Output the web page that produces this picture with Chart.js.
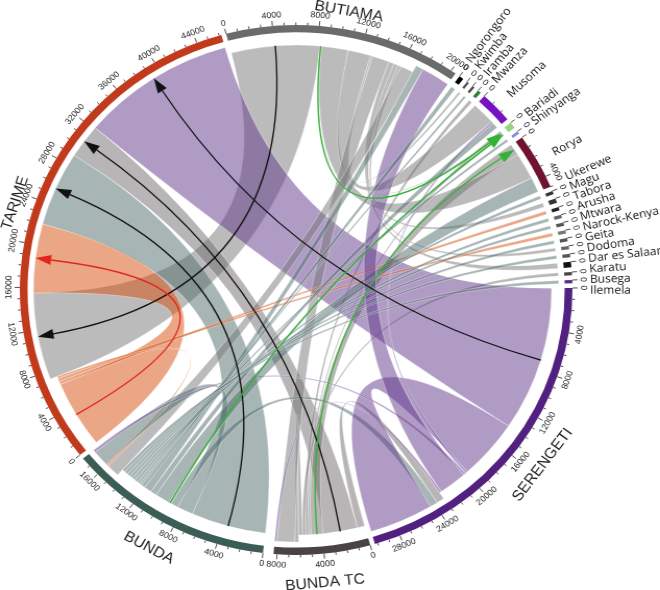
<!DOCTYPE html>
<html>
<head>
<meta charset="utf-8">
<title>Chord diagram</title>
<script src="https://cdn.jsdelivr.net/npm/chart.js@4.4.1/dist/chart.umd.min.js"></script>
<style>
    html, body { margin: 0; padding: 0; background: #fff; overflow: hidden; }
    #wrap { width: 633px; height: 590px; transform: scaleX(1.0427); transform-origin: 0 0; }
</style>
</head>
<body>
<div id="wrap"><canvas id="chord" width="633" height="590"></canvas></div>
<script>
// sectors, clockwise from the top
const sectors = ['BUTIAMA', 'Ngorongoro', 'Kwimba', 'Iramba', 'Mwanza', 'Musoma', 'Bariadi', 'Shinyanga',
    'Rorya', 'Ukerewe', 'Magu', 'Tabora', 'Arusha', 'Mtwara', 'Narock-Kenya', 'Geita', 'Dodoma',
    'Dar es Salaam', 'Karatu', 'Busega', 'Ilemela', 'SERENGETI', 'BUNDA TC', 'BUNDA', 'TARIME'];
const bigSectors = ['BUTIAMA', 'SERENGETI', 'BUNDA TC', 'BUNDA', 'TARIME'];

// links (from -> to), in drawing / stacking order
const linkFrom = ['BUTIAMA', 'TARIME', 'BUNDA', 'BUNDA TC', 'BUNDA TC', 'BUNDA TC', 'BUNDA TC', 'BUNDA TC',
    'BUNDA TC', 'BUNDA TC', 'SERENGETI', 'BUTIAMA', 'BUTIAMA', 'BUTIAMA', 'BUTIAMA', 'BUTIAMA', 'BUTIAMA',
    'BUTIAMA', 'BUTIAMA', 'BUTIAMA', 'TARIME', 'TARIME', 'TARIME', 'BUNDA', 'BUNDA', 'SERENGETI',
    'SERENGETI', 'SERENGETI', 'BUNDA', 'BUNDA', 'BUNDA', 'BUNDA', 'SERENGETI', 'SERENGETI', 'BUNDA',
    'BUNDA', 'BUNDA', 'BUNDA', 'BUNDA', 'BUNDA', 'BUNDA', 'BUNDA', 'BUNDA'];
const linkTo = ['TARIME', 'TARIME', 'TARIME', 'SERENGETI', 'TARIME', 'Rorya', 'Bariadi', 'Mwanza',
    'Busega', 'BUNDA TC', 'TARIME', 'Bariadi', 'Rorya', 'Musoma', 'Kwimba', 'BUNDA TC', 'Karatu',
    'Magu', 'Dodoma', 'BUNDA', 'Tabora', 'Narock-Kenya', 'BUNDA', 'BUNDA', 'SERENGETI', 'SERENGETI',
    'Musoma', 'BUNDA', 'Bariadi', 'Rorya', 'Musoma', 'BUTIAMA', 'BUTIAMA', 'BUNDA TC', 'Ngorongoro',
    'Iramba', 'Shinyanga', 'Ukerewe', 'Arusha', 'Mtwara', 'Geita', 'Dar es Salaam', 'Ilemela'];
const linkValue = [8200, 6500, 7000, 700, 3200, 1100, 200, 300,
    300, 350, 14000, 150, 2500, 2100, 200, 1600, 500,
    400, 300, 1200, 300, 300, 200, 1500, 700, 5800,
    200, 250, 200, 1400, 550, 700, 2600, 200, 400,
    200, 250, 300, 300, 300, 300, 300, 300];

// styles
const ringColor = {
    'BUTIAMA': '#6b6b6b', 'Ngorongoro': '#000000', 'Kwimba': '#555555', 'Iramba': '#444444',
    'Mwanza': '#2e7d2e', 'Musoma': '#7612c4', 'Bariadi': '#9ad37f', 'Shinyanga': '#8a8ad0',
    'Rorya': '#6e1430', 'Ukerewe': '#333333', 'Magu': '#333333', 'Tabora': '#222222',
    'Arusha': '#666666', 'Mtwara': '#555555', 'Narock-Kenya': '#777777', 'Geita': '#555555',
    'Dodoma': '#666666', 'Dar es Salaam': '#555555', 'Karatu': '#111111', 'Busega': '#444444',
    'Ilemela': '#5a2a90', 'SERENGETI': '#52217f', 'BUNDA TC': '#4a4343', 'BUNDA': '#3c5d56',
    'TARIME': '#c23a1c'
};
const ribbonColor = {
    'TARIME': 'rgba(214,78,12,0.5)',
    'BUTIAMA': 'rgba(120,120,120,0.5)',
    'SERENGETI': 'rgba(98,56,140,0.5)',
    'BUNDA': 'rgba(80,108,108,0.5)',
    'BUNDA TC': 'rgba(112,108,108,0.5)'
};
const arrowColor = {
    'BUTIAMA>TARIME': '#111', 'BUNDA>TARIME': '#111', 'BUNDA TC>TARIME': '#111',
    'SERENGETI>TARIME': '#111', 'TARIME>TARIME': '#e3261c',
    'BUTIAMA>Bariadi': '#33b233', 'BUNDA>Bariadi': '#33b233', 'BUNDA TC>Rorya': '#33b233'
};

// layout constants
const gapAfter = s => (s === 'BUNDA TC' ? 2.2 : 1);
const R_TO = 252, R_FROM = 245, HEAD = 15, HEAD_W = 5;
const LABEL_SEP = 2.15 * Math.PI / 180;

// stack link ends inside each sector: outgoing first, then incoming
const cursor = sectors.map(() => 0);
const ends = linkValue.map(() => ({ from: 0, to: 0 }));
linkFrom.forEach((f, i) => {
    const s = sectors.indexOf(f);
    ends[i].from = cursor[s];
    cursor[s] += linkValue[i];
});
linkTo.forEach((t, i) => {
    const s = sectors.indexOf(t);
    ends[i].to = cursor[s];
    cursor[s] += linkValue[i];
});
const sectorTotals = cursor.slice();
const grandTotal = sectorTotals.reduce((a, b) => a + b, 0);
const gapDegTotal = sectors.reduce((a, s) => a + gapAfter(s), 0);
const unitsPerDeg = grandTotal / (360 - gapDegTotal);

const ringData = [], ringColors = [], ringLabels = [];
sectors.forEach((s, i) => {
    ringData.push(sectorTotals[i], gapAfter(s) * unitsPerDeg);
    ringColors.push(ringColor[s], 'rgba(0,0,0,0)');
    ringLabels.push(s, '');
});

const isLower = a => {
    const n = ((a % (2 * Math.PI)) + 2 * Math.PI) % (2 * Math.PI);
    return n > 0.01 && n < Math.PI - 0.01;
};

function drawTangential(ctx, text, x, y, angle) {
    ctx.save();
    ctx.translate(x, y);
    ctx.rotate(isLower(angle) ? angle - Math.PI / 2 : angle + Math.PI / 2);
    ctx.textAlign = 'center';
    ctx.textBaseline = 'middle';
    ctx.fillText(text, 0, 0);
    ctx.restore();
}

// push radial labels apart so that neighbours keep a minimum angle
function spreadLabels(angles) {
    const a = angles.slice();
    for (let it = 0; it < 300; it++) {
        let moved = false;
        for (let k = 1; k < a.length; k++) {
            const d = a[k] - a[k - 1];
            if (d < LABEL_SEP - 1e-6) {
                const push = (LABEL_SEP - d) / 2;
                a[k - 1] -= push;
                a[k] += push;
                moved = true;
            }
        }
        if (!moved) break;
    }
    return a;
}

const chordPlugin = {
    id: 'chord',
    afterDatasetsDraw(chart) {
        const ctx = chart.ctx;
        const arcs = chart.getDatasetMeta(0).data;
        const cx = arcs[0].x, cy = arcs[0].y, R = arcs[0].outerRadius;
        const ang = (s, v) => {
            const a = arcs[s * 2];
            return a.startAngle + (a.endAngle - a.startAngle) * v / sectorTotals[s];
        };
        const pt = (r, a) => [cx + r * Math.cos(a), cy + r * Math.sin(a)];

        ctx.save();
        // ribbons
        linkValue.forEach((v, i) => {
            const fs = sectors.indexOf(linkFrom[i]), ts = sectors.indexOf(linkTo[i]);
            const a0 = ang(fs, ends[i].from), a1 = ang(fs, ends[i].from + v);
            const b0 = ang(ts, ends[i].to), b1 = ang(ts, ends[i].to + v);
            const p = pt(R_TO, b0), q = pt(R_FROM, a0);
            ctx.beginPath();
            ctx.arc(cx, cy, R_FROM, a0, a1);
            ctx.quadraticCurveTo(cx, cy, p[0], p[1]);
            ctx.arc(cx, cy, R_TO, b0, b1);
            ctx.quadraticCurveTo(cx, cy, q[0], q[1]);
            ctx.closePath();
            ctx.fillStyle = ribbonColor[linkFrom[i]] || 'rgba(150,150,150,0.5)';
            ctx.fill();
            ctx.strokeStyle = 'rgba(255,255,255,0.55)';
            ctx.lineWidth = 0.6;
            ctx.stroke();
        });

        // arrows along the middle of the directed links
        linkValue.forEach((v, i) => {
            const col = arrowColor[linkFrom[i] + '>' + linkTo[i]];
            if (!col) return;
            const fs = sectors.indexOf(linkFrom[i]), ts = sectors.indexOf(linkTo[i]);
            const am = ang(fs, ends[i].from + v / 2), bm = ang(ts, ends[i].to + v / 2);
            const p0 = pt(R_FROM, am), tip = pt(R_TO, bm), base = pt(R_TO - HEAD, bm);
            ctx.strokeStyle = col;
            ctx.lineWidth = 1.3;
            ctx.beginPath();
            ctx.moveTo(p0[0], p0[1]);
            ctx.quadraticCurveTo(cx, cy, base[0], base[1]);
            ctx.stroke();
            const nx = -Math.sin(bm) * HEAD_W, ny = Math.cos(bm) * HEAD_W;
            ctx.fillStyle = col;
            ctx.beginPath();
            ctx.moveTo(tip[0], tip[1]);
            ctx.lineTo(base[0] + nx, base[1] + ny);
            ctx.lineTo(base[0] - nx, base[1] - ny);
            ctx.closePath();
            ctx.fill();
        });

        // ticks and tick labels
        ctx.strokeStyle = '#222';
        ctx.fillStyle = '#222';
        ctx.lineWidth = 0.8;
        ctx.font = '8.5px "Liberation Sans", Arial, sans-serif';
        sectors.forEach((name, s) => {
            for (let v = 0; v <= sectorTotals[s]; v += 1000) {
                const a = ang(s, v);
                const major = v % 4000 === 0;
                const p1 = pt(R, a), p2 = pt(R + (major ? 5 : 2.5), a);
                ctx.beginPath();
                ctx.moveTo(p1[0], p1[1]);
                ctx.lineTo(p2[0], p2[1]);
                ctx.stroke();
                if (major) {
                    const lp = pt(R + 10.5, a);
                    drawTangential(ctx, String(v), lp[0], lp[1], a);
                }
            }
        });

        // big sector names, bent along the circle
        ctx.font = '15px "Liberation Sans", Arial, sans-serif';
        sectors.forEach((name, s) => {
            if (!bigSectors.includes(name)) return;
            const mid = ang(s, sectorTotals[s] / 2);
            const np = pt(R + (isLower(mid) ? 29 : 18), mid);
            drawTangential(ctx, name, np[0], np[1], mid);
        });

        // small sector names, radial
        const small = sectors.map((n, s) => s).filter(s => !bigSectors.includes(sectors[s]));
        const spread = spreadLabels(small.map(s => ang(s, sectorTotals[s] / 2)));
        ctx.font = '11.5px "Open Sans", sans-serif';
        ctx.fillStyle = '#111';
        small.forEach((s, k) => {
            const a = spread[k];
            const np = pt(R + 17, a);
            ctx.save();
            ctx.translate(np[0], np[1]);
            ctx.rotate(a);
            ctx.textAlign = 'left';
            ctx.textBaseline = 'middle';
            ctx.fillText(sectors[s], 0, 0);
            ctx.restore();
        });
        ctx.restore();
    }
};

new Chart(document.getElementById('chord').getContext('2d'), {
    type: 'doughnut',
    data: {
        labels: ringLabels,
        datasets: [{
            data: ringData,
            backgroundColor: ringColors,
            borderWidth: 0,
            hoverOffset: 0
        }]
    },
    options: {
        responsive: false,
        animation: false,
        events: [],
        rotation: -14.7,
        radius: 265,
        cutout: '97.2%',
        layout: { padding: { left: 19, right: 84, top: 25, bottom: 35 } },
        plugins: {
            legend: { display: false },
            tooltip: { enabled: false }
        }
    },
    plugins: [chordPlugin]
});
</script>
</body>
</html>
